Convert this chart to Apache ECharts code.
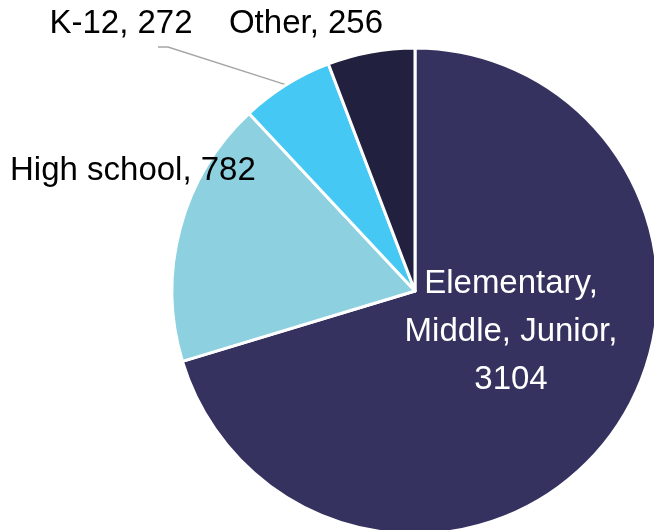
<!DOCTYPE html>
<html><head><meta charset="utf-8">
<script src="https://cdn.jsdelivr.net/npm/echarts@6/dist/echarts.min.js"></script>
<style>html,body{margin:0;padding:0;background:#fff}#c{width:654px;height:530px}</style>
</head><body><div id="c"></div>
<script>
const categories = ['Elementary, Middle, Junior', 'High school', 'K-12', 'Other'];
const values = [3104, 782, 272, 256];
const colors = ['#35325F', '#8DD1E0', '#45C8F3', '#22203F'];

const FONT = 'Liberation Sans';
const chart = echarts.init(document.getElementById('c'), null, {renderer: 'canvas'});
const labelPos = {
  'Elementary, Middle, Junior': {x: 511, y: 332, align: 'center'},
  'High school': {x: 10, y: 171, align: 'left'},
  'K-12': {x: 121, y: 24, align: 'center'},
  'Other': {x: 306, y: 24, align: 'center'}
};
chart.setOption({
  animation: false,
  series: [{
    type: 'pie',
    center: [415, 291],
    radius: [0, 243],
    startAngle: 90,
    clockwise: true,
    itemStyle: {borderColor: '#fff', borderWidth: 3},
    label: {fontFamily: FONT, fontSize: 33, color: '#000', formatter: '{b}, {c}', overflow: 'none', width: 400},
    labelLine: {show: false},
    labelLayout: function (p) {
      const n = categories[p.dataIndex];
      const lp = labelPos[n];
      if (!lp) return {};
      const r = {x: lp.x, y: lp.y, align: lp.align, verticalAlign: 'middle'};
      if (n === 'K-12' && p.labelLinePoints) {
        const e = p.labelLinePoints[0];
        r.labelLinePoints = [e, [lp.x + 47, lp.y + 23], [lp.x + 37, lp.y + 23]];
      }
      return r;
    },
    data: categories.map((c, i) => {
      const d = {name: c, value: values[i], itemStyle: {color: colors[i]}};
      if (i === 0) {
        d.label = {position: 'inside', color: '#fff', formatter: 'Elementary,\nMiddle, Junior,\n{c}', lineHeight: 48, align: 'center'};
      }
      if (c === 'K-12') {
        d.labelLine = {show: true, lineStyle: {color: '#A6A6A6', width: 1.5}};
      }
      return d;
    })
  }]
});
</script></body></html>
